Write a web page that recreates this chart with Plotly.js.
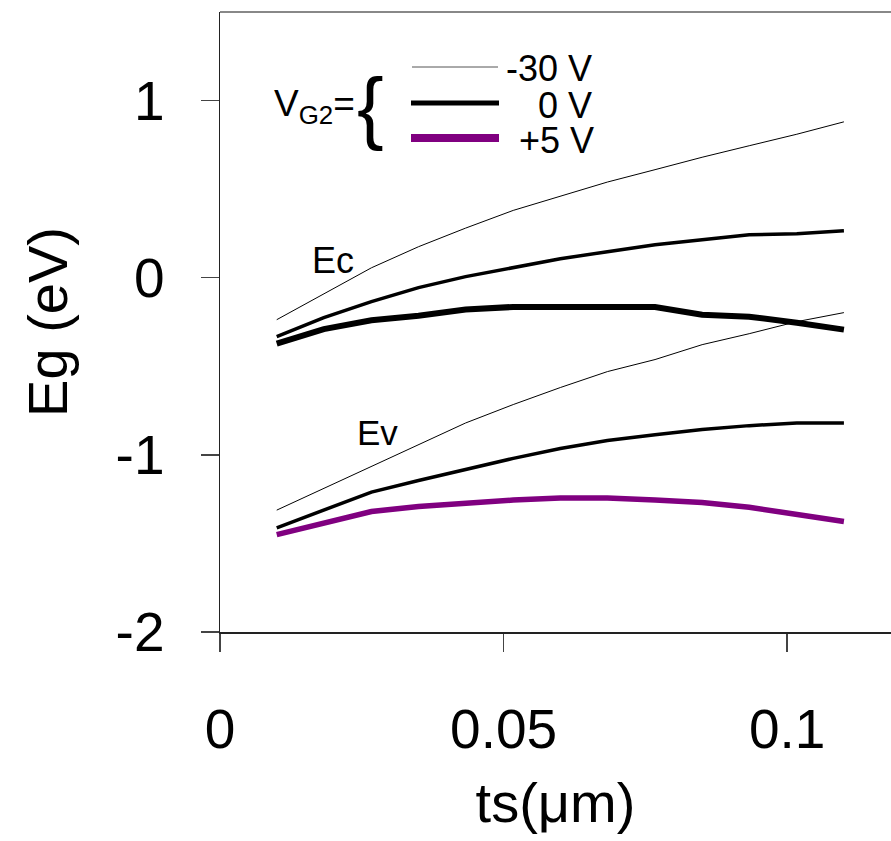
<!DOCTYPE html>
<html>
<head>
<meta charset="utf-8">
<script src="https://cdn.plot.ly/plotly-3.0.1.min.js"></script>
<style>html,body{margin:0;padding:0;background:#fff;}#chart{width:891px;height:841px;}</style>
</head>
<body>
<div id="chart"></div>
<script>
// thickness ts (um)
var ts = [0.01, 0.0183, 0.0267, 0.035, 0.0433, 0.0517, 0.06, 0.0683, 0.0767, 0.085, 0.0933, 0.1017, 0.11];
// Conduction band edge Ec (eV)
var ecM30 = [-0.237, -0.09, 0.056, 0.175, 0.28, 0.38, 0.46, 0.54, 0.61, 0.68, 0.745, 0.81, 0.88];
var ec0   = [-0.333, -0.225, -0.135, -0.056, 0.006, 0.056, 0.107, 0.147, 0.186, 0.214, 0.243, 0.248, 0.265];
var ecP5  = [-0.372, -0.29, -0.24, -0.215, -0.18, -0.165, -0.165, -0.165, -0.165, -0.209, -0.22, -0.254, -0.293];
// Valence band edge Ev (eV)
var evM30 = [-1.312, -1.19, -1.065, -0.942, -0.82, -0.716, -0.62, -0.53, -0.462, -0.378, -0.316, -0.248, -0.197];
var ev0   = [-1.412, -1.309, -1.21, -1.145, -1.083, -1.02, -0.964, -0.919, -0.886, -0.857, -0.835, -0.82, -0.82];
var evP5  = [-1.45, -1.382, -1.32, -1.292, -1.271, -1.255, -1.243, -1.243, -1.255, -1.269, -1.296, -1.337, -1.376];
// axis ticks
var xTickVals = [0, 0.05, 0.1];
var xTickText = ['0', '0.05', '0.1'];
var yTickVals = [-2, -1, 0, 1];
var yTickText = ['-2', '-1', '0', '1'];
var legendLabels = ['-30 V', '0 V', '+5 V'];

var FONT = 'Liberation Sans, Arial, sans-serif';
function tr(y, w, c) {
  return {x: ts, y: y, mode: 'lines', line: {color: c, width: w}, showlegend: false, hoverinfo: 'skip'};
}
var data = [
  tr(ecM30, 1, '#000'), tr(ec0, 3.5, '#000'), tr(ecP5, 6, '#000'),
  tr(evM30, 1, '#000'), tr(ev0, 3.5, '#000'), tr(evP5, 5.5, '#800080')
];

var L = 220, T = 12, W = 671, H = 620;
function px(x) { return (x - L) / W; }
function py(y) { return (T + H - y) / H; }

var shapes = [
  {type: 'line', xref: 'paper', yref: 'paper', x0: 0, x1: 1, y0: 1, y1: 1, line: {color: '#888', width: 2}},
  {type: 'line', xref: 'paper', yref: 'paper', x0: px(412), x1: px(498), y0: py(67), y1: py(67), line: {color: '#555', width: 1}},
  {type: 'line', xref: 'paper', yref: 'paper', x0: px(411), x1: px(499), y0: py(103), y1: py(103), line: {color: '#000', width: 5}},
  {type: 'line', xref: 'paper', yref: 'paper', x0: px(411), x1: px(499), y0: py(138), y1: py(138), line: {color: '#800080', width: 8}}
];

function ann(text, x, y, size, xa) {
  return {text: text, xref: 'paper', yref: 'paper', x: px(x), y: py(y), xanchor: xa || 'center', yanchor: 'middle',
          showarrow: false, font: {family: FONT, size: size, color: '#000'}};
}
var annotations = [
  ann(legendLabels[0], 594, 68, 36, 'right'),
  ann(legendLabels[1], 594, 105, 36, 'right'),
  ann(legendLabels[2], 596, 140, 36, 'right'),
  ann('V<sub>G2</sub>=', 272, 106, 37, 'left'),
  ann('{', 370, 106, 80, 'center'),
  ann('Ec', 333, 260, 36, 'center'),
  ann('Ev', 377, 433, 35, 'center')
];

var layout = {
  width: 891, height: 841,
  margin: {l: 220, r: 0, t: 12, b: 209, pad: 0},
  paper_bgcolor: '#fff', plot_bgcolor: '#fff',
  font: {family: FONT, color: '#000'},
  xaxis: {
    range: [0, 0.1183], tickvals: xTickVals, ticktext: xTickText,
    showgrid: false, zeroline: false, showline: true, linecolor: '#222', linewidth: 1.5,
    ticks: 'outside', ticklen: 18, tickwidth: 1.5, tickcolor: '#444',
    tickfont: {family: FONT, size: 55, color: '#000'}, ticklabelstandoff: 30,
    title: {text: 'ts(\u03bcm)', font: {family: FONT, size: 56, color: '#000'}, standoff: 24}
  },
  yaxis: {
    range: [-2, 1.5], tickvals: yTickVals, ticktext: yTickText,
    showgrid: false, zeroline: false, showline: true, linecolor: '#222', linewidth: 1.5,
    ticks: 'outside', ticklen: 18, tickwidth: 1.5, tickcolor: '#444',
    tickfont: {family: FONT, size: 55, color: '#000'}, ticklabelstandoff: 25,
    title: {text: 'Eg (eV)', font: {family: FONT, size: 56, color: '#000'}, standoff: 30}
  },
  shapes: shapes,
  annotations: annotations
};
Plotly.newPlot('chart', data, layout, {displayModeBar: false, staticPlot: true});
</script>
</body>
</html>
